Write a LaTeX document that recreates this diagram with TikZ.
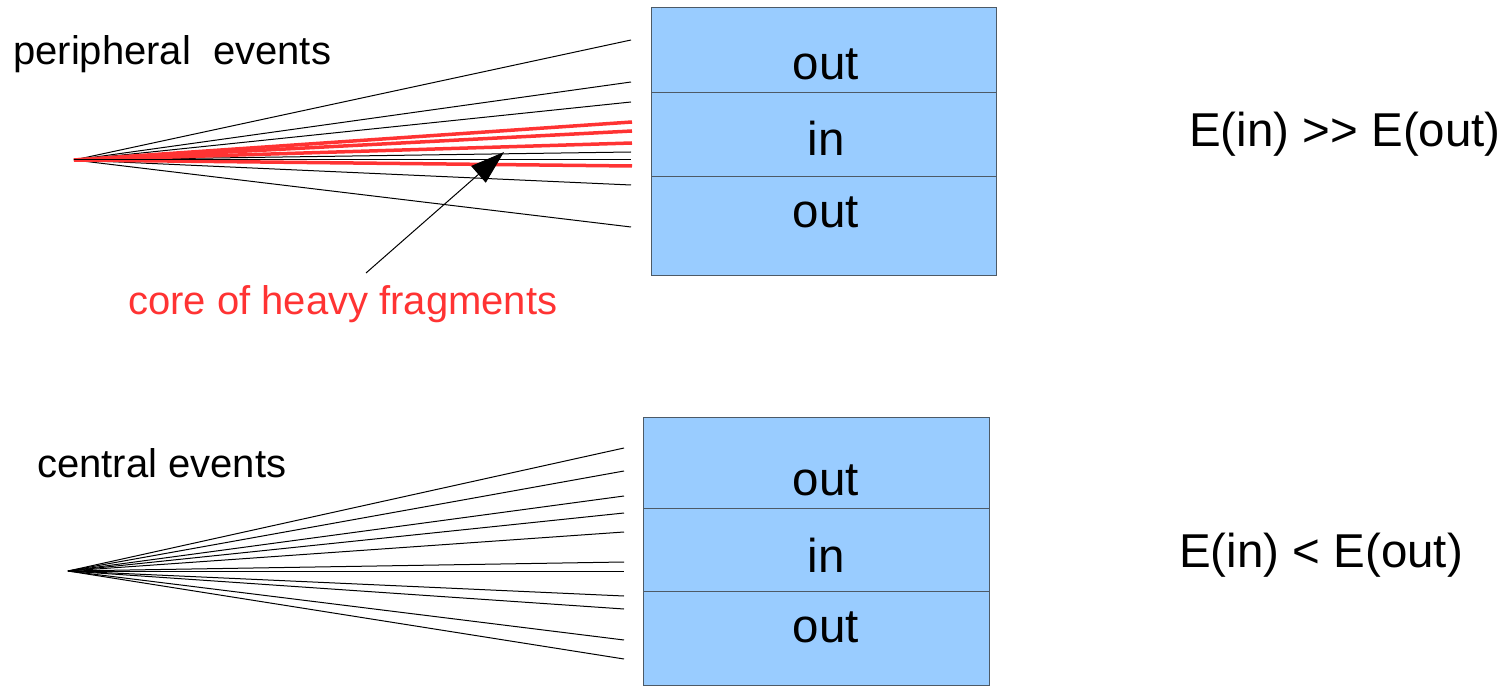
\documentclass[tikz,border=0pt]{standalone}
\usepackage{fontspec}
\setmainfont{Liberation Sans}
\usetikzlibrary{arrows.meta}
\definecolor{boxblue}{HTML}{99CCFF}
\definecolor{boxline}{HTML}{4D5A66}
\definecolor{heavyred}{HTML}{FF3333}
\tikzset{
  sect/.style={draw=boxline, line width=1.4pt, fill=boxblue, rectangle, inner sep=0pt, anchor=north west},
  big/.style={font=\fontsize{47.5}{56}\selectfont, inner sep=0pt, anchor=base},
  small/.style={font=\fontsize{40}{48}\selectfont, inner sep=0pt, anchor=base west},
  track/.style={draw=black, line width=1pt},
  heavy/.style={draw=heavyred, line width=3.5pt},
}
\begin{document}
\begin{tikzpicture}[x=1pt,y=-1pt]
\useasboundingbox (0,0) rectangle (1505,692);
% top box
\node[sect, minimum width=345pt, minimum height=85pt] (t1) at (651,7) {};
\node[sect, minimum width=345pt, minimum height=84pt] (t2) at (651,92) {};
\node[sect, minimum width=345pt, minimum height=99pt] (t3) at (651,176) {};
\node[big] (t1l) at (826,80) {out};
\node[big] (t2l) at (826,156) {in};
\node[big] (t3l) at (826,228) {out};
% bottom box
\node[sect, minimum width=346pt, minimum height=91pt] (b1) at (643,417) {};
\node[sect, minimum width=346pt, minimum height=83pt] (b2) at (643,508) {};
\node[sect, minimum width=346pt, minimum height=94pt] (b3) at (643,591) {};
\node[big] (b1l) at (826,495) {out};
\node[big] (b2l) at (826,572) {in};
\node[big] (b3l) at (826,642) {out};
% labels
\node[small] (pe) at (13,65) {peripheral\ \ events};
\node[small] (ce) at (37,477) {central events};
\node[small, text=heavyred] (core) at (128,315) {core of heavy fragments};
\node[big, anchor=base west] (r1) at (1189,147) {E(in) >{}> E(out)};
\node[big, anchor=base west] (r2) at (1179,567) {E(in) < E(out)};
% top fan
\coordinate (o1) at (74,160);
\foreach \y [count=\i] in {40,82,102,152,160,185,227}
  {\coordinate (te\i) at (631,\y); \draw[track] (o1) -- (te\i);}
\foreach \y [count=\i] in {122,131,143,166}
  {\coordinate (he\i) at (632,\y); \draw[heavy] (o1) -- (he\i);}
\draw[track] (o1) -- (te5);
% arrow
\coordinate (as) at (366,273);
\coordinate (at) at (504,152);
\draw[line width=1pt, -{Triangle[length=34pt,width=22pt]}] (as) -- (at);
% bottom fan
\coordinate (o2) at (68,571);
\foreach \y [count=\i] in {448,471,496,513,532,562,571,596,609,640,659}
  {\coordinate (be\i) at (624,\y); \draw[track] (o2) -- (be\i);}
\end{tikzpicture}
\end{document}
